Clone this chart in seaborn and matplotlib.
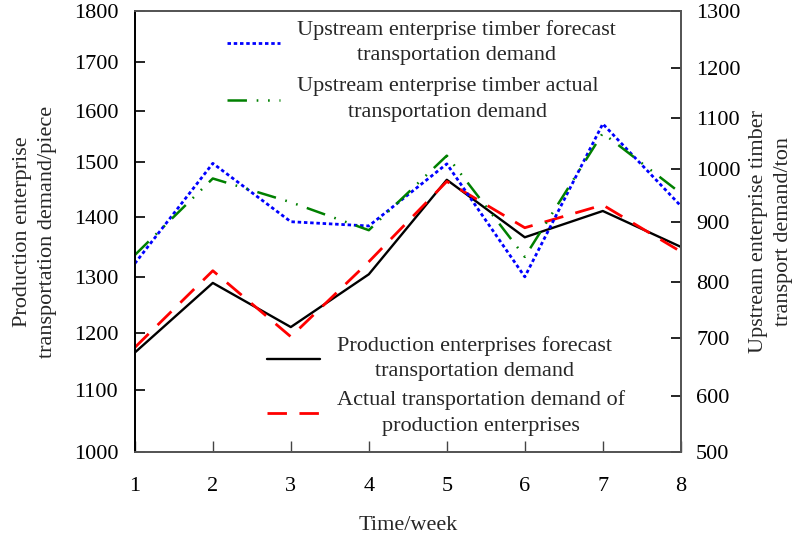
import numpy as np
import matplotlib
matplotlib.use("Agg")
import matplotlib.pyplot as plt
from matplotlib.offsetbox import HPacker
import seaborn as sns

# ---- data ----
weeks = [1, 2, 3, 4, 5, 6, 7, 8]
prod_forecast = [1166, 1289, 1211, 1304, 1468, 1366, 1411, 1350]   # piece
prod_actual = [1175, 1310, 1194, 1325, 1465, 1382, 1422, 1342]     # piece
timber_forecast = [831, 1011, 900, 893, 1010, 809, 1088, 930]      # ton
timber_actual = [845, 982, 937, 886, 1026, 842, 1070, 954]         # ton

left_ticks = [1000, 1100, 1200, 1300, 1400, 1500, 1600, 1700, 1800]
right_ticks = [500, 600, 700, 800, 900, 1000, 1100, 1200, 1300]

# uneven tick spacing of the printed axes (fraction of axis height per tick)
left_frac = [0, 0.1413, 0.270, 0.3984, 0.5338, 0.6579, 0.7743, 0.8861, 1]
right_frac = [0, 0.1284, 0.2586, 0.3857, 0.5231, 0.6427, 0.7591, 0.8711, 1]

sns.set_style("ticks")
plt.rcParams["font.family"] = ["Liberation Serif", "DejaVu Serif"]
plt.rcParams["lines.scale_dashes"] = False
FS = 16
LS = 1.45


def piecewise(vals, fracs):
    def fwd(v):
        return np.interp(v, vals, fracs)

    def inv(f):
        return np.interp(f, fracs, vals)

    return fwd, inv


fig = plt.figure(figsize=(7.93, 5.37), dpi=100)
ax = fig.add_axes([0.170, 0.1577, 0.6885, 0.8209])
ax2 = ax.twinx()

# production enterprises (left axis)
sns.lineplot(x=weeks, y=prod_forecast, ax=ax, color="black", lw=1.7,
             label="Production enterprises forecast\ntransportation demand",
             legend=False)
sns.lineplot(x=weeks, y=prod_actual, ax=ax, color="#ff0000", lw=2.0,
             linestyle=(0, (14, 9)),
             label="Actual transportation demand of\nproduction enterprises",
             legend=False)

# upstream timber (right axis)
sns.lineplot(x=weeks, y=timber_forecast, ax=ax2, color="#0000ff", lw=2.0,
             linestyle=(0, (2.5, 2)),
             label="Upstream enterprise timber forecast\ntransportation demand",
             legend=False)
sns.lineplot(x=weeks, y=timber_actual, ax=ax2, color="#008000", lw=1.8,
             linestyle=(0, (14, 7, 1.2, 7, 1.2, 7)),
             label="Upstream enterprise timber actual\ntransportation demand",
             legend=False)

ax.set_yscale("function", functions=piecewise(left_ticks, left_frac))
ax2.set_yscale("function", functions=piecewise(right_ticks, right_frac))
ax.set_ylim(1000, 1800)
ax2.set_ylim(500, 1300)
ax.set_xlim(1, 8)
ax.set_yticks(left_ticks)
ax2.set_yticks(right_ticks)
ax.set_xticks(weeks)
ax.yaxis.set_minor_locator(matplotlib.ticker.NullLocator())
ax2.yaxis.set_minor_locator(matplotlib.ticker.NullLocator())
ax.set_yticklabels([str(t) for t in left_ticks])
ax2.set_yticklabels([str(t) for t in right_ticks])

ax.tick_params(axis="y", direction="in", length=7, width=1.2, pad=12,
               labelsize=FS, colors="black")
ax.tick_params(axis="x", direction="in", length=8, width=1.0, pad=18,
               labelsize=FS, colors="#444444", labelcolor="black")
ax2.tick_params(axis="y", direction="in", length=7, width=1.2, pad=11,
                labelsize=FS, colors="black")

for a in (ax, ax2):
    for side, sp in a.spines.items():
        sp.set_visible(True)
        sp.set_linewidth(1.3)
        sp.set_color("#555555")
    a.spines["left"].set_color("black")

ax.set_xlabel("Time/week", fontsize=FS, labelpad=14)
ax.set_ylabel("Production enterprise\ntransportation demand/piece",
              fontsize=FS, labelpad=12, linespacing=LS)
ax2.set_ylabel("Upstream enterprise timber\ntransport demand/ton",
               fontsize=FS, labelpad=6, rotation=90, linespacing=LS)

# legends
h_up, l_up = ax2.get_legend_handles_labels()
h_dn, l_dn = ax.get_legend_handles_labels()

leg_kw = dict(frameon=False, fontsize=FS, handlelength=2.4,
              handletextpad=0.75, borderpad=0, borderaxespad=0,
              loc="upper left", bbox_transform=fig.transFigure)

leg_up = ax2.legend(h_up, l_up, bbox_to_anchor=(227 / 793, 1 - 20 / 537),
                    labelspacing=0.55, **leg_kw)
ax2.add_artist(leg_up)
leg_dn = ax2.legend(h_dn, l_dn, bbox_to_anchor=(267 / 793, 1 - 336 / 537),
                    labelspacing=0.42, **leg_kw)

for leg in (leg_up, leg_dn):
    for t in leg.get_texts():
        t.set_multialignment("center")
        t.set_linespacing(LS)
    for p in leg.findobj(HPacker):
        p.align = "center"

fig.savefig("out.png", dpi=100)
